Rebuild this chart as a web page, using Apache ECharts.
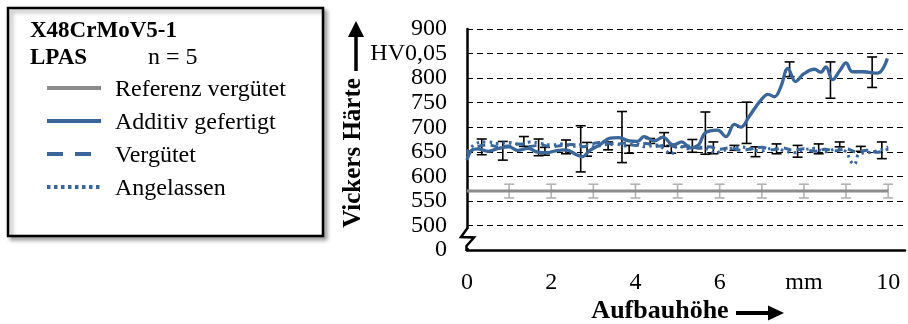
<!DOCTYPE html>
<html>
<head>
<meta charset="utf-8">
<script src="https://cdn.jsdelivr.net/npm/echarts@6/dist/echarts.min.js"></script>
<style>
html,body{margin:0;padding:0;background:#fff;}
#c{width:908px;height:324px;}
</style>
</head>
<body>
<div id="c"></div>
<script>
// ---- data ----
const xTicks = [0, 2, 4, 6, 8, 10];
const xTickLabels = ['0', '2', '4', '6', 'mm', '10'];
const yTickValues = [450, 500, 550, 600, 650, 700, 750, 800, 850, 900];
const yTickLabels = ['0', '500', '550', '600', '650', '700', '750', '800', 'HV0,05', '900'];

const seriesNames = ['Referenz vergütet', 'Additiv gefertigt', 'Vergütet', 'Angelassen'];

const refX = [0, 10];
const refY = [570, 570];
const refErrX = [1, 2, 3, 4, 5, 6, 7, 8, 9, 10];
const refErrMean = [570, 570, 570, 570, 570, 570, 570, 570, 570, 570];
const refErrDev = [14, 14, 14, 14, 14, 14, 14, 14, 14, 14];

const additivX = [0,0.1,0.25,0.5,0.75,1.0,1.2,1.45,1.65,1.9,2.1,2.35,2.6,2.75,2.9,3.15,3.4,3.6,3.85,4.05,4.2,4.45,4.65,4.9,5.1,5.3,5.5,5.65,5.95,6.15,6.35,6.5,6.7,6.95,7.15,7.3,7.45,7.62,7.8,8.0,8.25,8.4,8.52,8.68,8.85,9.0,9.15,9.4,9.75,9.98];
const additivY = [633,652,656,651,657,660,653,657,650,648,652,654,644,640,652,664,678,679,672,671,681,672,680,664,670,658,664,688,694,681,706,700,722,752,767,762,782,820,793,809,818,812,823,797,815,831,813,813,810,840];
const additivErrX = [1.7, 2.7, 3.68, 4.68, 5.66, 6.64, 7.66, 8.63, 9.62];
const additivErrMean = [659, 656, 680, 675, 688, 709, 818, 796, 812];
const additivErrDev = [17, 47, 52, 14, 43, 42, 15, 37, 31];

const vergX = [0,0.25,0.5,0.75,1,1.25,1.5,1.75,2,2.25,2.5,2.75,3,3.25,3.5,3.75,4,4.25,4.5,4.75,5,5.25,5.5,5.75,6,6.25,6.5,6.75,7,7.25,7.5,7.75,8,8.25,8.5,8.75,9,9.25,9.5,9.75,10];
const vergY = [645,660,664,660,662,666,661,664,660,663,665,660,667,669,664,668,663,667,661,664,659,662,657,660,655,658,653,656,659,654,658,653,656,651,655,652,656,650,653,649,656];
const vergErrX = [0.35, 1.35, 2.35, 3.35, 4.35, 5.35, 6.35, 7.35, 8.35, 9.35];
const vergErrMean = [660, 671, 660, 662, 672, 662, 658, 656, 656, 656];
const vergErrDev = [16, 10, 14, 8, 5, 13, 5, 10, 10, 5];

const angX = [0,0.25,0.5,0.75,1,1.25,1.5,1.75,2,2.25,2.5,2.75,3,3.25,3.5,3.75,4,4.25,4.5,4.75,4.85,5,5.25,5.5,5.75,5.9,6,6.25,6.5,6.75,7,7.25,7.5,7.75,8,8.25,8.5,8.75,9,9.1,9.2,9.3,9.5,9.75,10];
const angY = [650,668,670,667,669,665,670,667,664,666,661,665,660,664,667,662,666,660,664,650,645,662,656,660,654,647,650,656,660,655,652,657,653,648,654,657,650,655,650,632,624,645,648,652,660];
const angErrX = [0.85, 1.85, 2.85, 3.85, 4.85, 5.85, 6.85, 7.85, 8.85, 9.85];
const angErrMean = [652, 651, 655, 655, 655, 658, 650, 651, 665, 653];
const angErrDev = [19, 8, 14, 8, 8, 12, 10, 12, 5, 17];

// ---- helpers ----
const FONT = '"Liberation Serif", "Times New Roman", serif';
const BLUE = '#3b6699';
const pairs = (xs, ys) => xs.map((x, i) => [x, ys[i]]);
const errData = (xs, m, d) => xs.map((x, i) => [x, m[i] - d[i], m[i] + d[i]]);

function errRender(color) {
  return function (params, api) {
    const x = api.value(0);
    const lo = api.coord([x, api.value(1)]);
    const hi = api.coord([x, api.value(2)]);
    const hw = 5;
    const st = { stroke: color, lineWidth: 1.6 };
    return {
      type: 'group',
      children: [
        { type: 'line', shape: { x1: lo[0], y1: lo[1], x2: hi[0], y2: hi[1] }, style: st },
        { type: 'line', shape: { x1: lo[0] - hw, y1: lo[1], x2: lo[0] + hw, y2: lo[1] }, style: st },
        { type: 'line', shape: { x1: hi[0] - hw, y1: hi[1], x2: hi[0] + hw, y2: hi[1] }, style: st }
      ]
    };
  };
}

const chart = echarts.init(document.getElementById('c'), null, { renderer: 'canvas' });

const legendRows = [
  { name: seriesNames[0], color: '#8c8c8c', dash: null, y: 88 },
  { name: seriesNames[1], color: BLUE, dash: null, y: 121 },
  { name: seriesNames[2], color: BLUE, dash: [16, 12], y: 154 },
  { name: seriesNames[3], color: BLUE, dash: [3.5, 3.5], y: 187 }
];

const graphics = [
  // legend box
  { type: 'rect', shape: { x: 8, y: 8, width: 315, height: 228 }, z: 50,
    style: { fill: '#fff', stroke: '#000', lineWidth: 2.5, shadowBlur: 4, shadowOffsetX: 3, shadowOffsetY: 3, shadowColor: 'rgba(0,0,0,0.35)' } },
  { type: 'text', x: 30, y: 31, z: 51, style: { text: 'X48CrMoV5-1', font: 'bold 23px ' + FONT, fill: '#000', verticalAlign: 'middle' } },
  { type: 'text', x: 30, y: 58, z: 51, style: { text: 'LPAS', font: 'bold 23px ' + FONT, fill: '#000', verticalAlign: 'middle' } },
  { type: 'text', x: 148, y: 58, z: 51, style: { text: 'n = 5', font: '24px ' + FONT, fill: '#000', verticalAlign: 'middle' } }
];
legendRows.forEach(r => {
  graphics.push({ type: 'line', z: 51, shape: { x1: 47, y1: r.y, x2: 101, y2: r.y },
    style: { stroke: r.color, lineWidth: 4, lineDash: r.dash || null } });
  graphics.push({ type: 'text', x: 115, y: r.y + 2, z: 51,
    style: { text: r.name, font: '24px ' + FONT, fill: '#000', verticalAlign: 'middle' } });
});
// y axis name with arrow
graphics.push({ type: 'text', x: 354, y: 153, rotation: Math.PI / 2, z: 51,
  style: { text: 'Vickers Härte', font: 'bold 25px ' + FONT, fill: '#000', align: 'center', verticalAlign: 'middle' } });
graphics.push({ type: 'line', z: 51, shape: { x1: 356, y1: 71, x2: 356, y2: 34 }, style: { stroke: '#000', lineWidth: 3.5 } });
graphics.push({ type: 'polygon', z: 51, shape: { points: [[356, 21], [348, 37], [364, 37]] }, style: { fill: '#000' } });
// x axis name with arrow
graphics.push({ type: 'text', x: 660, y: 311, z: 51,
  style: { text: 'Aufbauhöhe', font: 'bold 26px ' + FONT, fill: '#000', align: 'center', verticalAlign: 'middle' } });
graphics.push({ type: 'line', z: 51, shape: { x1: 736, y1: 313, x2: 770, y2: 313 }, style: { stroke: '#000', lineWidth: 4 } });
graphics.push({ type: 'polygon', z: 51, shape: { points: [[784, 313], [768, 305.5], [768, 320.5]] }, style: { fill: '#000' } });
// axis break
graphics.push({ type: 'rect', z: 60, shape: { x: 462, y: 229, width: 12, height: 19 }, style: { fill: '#fff' } });
graphics.push({ type: 'polyline', z: 61, shape: { points: [[467.5, 228], [461, 237], [474, 237.5], [466.5, 246], [466.5, 251]] },
  style: { stroke: '#000', lineWidth: 2.5, fill: null } });

const option = {
  animation: false,
  backgroundColor: '#fff',
  grid: { left: 467, right: 0, top: 29, bottom: 74, containLabel: false },
  xAxis: {
    type: 'value', min: 0, max: 10.4, interval: 2,
    axisLine: { show: true, lineStyle: { color: '#000', width: 2.5 } },
    axisTick: { show: false },
    splitLine: { show: false },
    axisLabel: {
      margin: 21, color: '#000', fontFamily: FONT, fontSize: 24,
      formatter: v => { const i = xTicks.indexOf(v); return i >= 0 ? xTickLabels[i] : ''; }
    }
  },
  yAxis: {
    type: 'value', min: 450, max: 900, interval: 50,
    axisLine: { show: true, lineStyle: { color: '#000', width: 2.5 } },
    axisTick: { show: false },
    splitLine: { show: true, lineStyle: { color: '#000', width: 1.2, type: [6, 4] } },
    axisLabel: {
      margin: 20, color: '#000', fontFamily: FONT, fontSize: 24,
      formatter: v => { const i = yTickValues.indexOf(v); return i >= 0 ? yTickLabels[i] : ''; }
    }
  },
  graphic: graphics,
  series: [
    { type: 'custom', name: 'refErr', renderItem: errRender('#b3b3b3'), data: errData(refErrX, refErrMean, refErrDev), encode: { x: 0, y: [1, 2] }, silent: true },
    { type: 'line', name: seriesNames[0], data: pairs(refX, refY), symbol: 'none', lineStyle: { color: '#8c8c8c', width: 3 } },
    { type: 'custom', name: 'vergErr', renderItem: errRender('#000'), data: errData(vergErrX, vergErrMean, vergErrDev), encode: { x: 0, y: [1, 2] }, silent: true },
    { type: 'custom', name: 'angErr', renderItem: errRender('#000'), data: errData(angErrX, angErrMean, angErrDev), encode: { x: 0, y: [1, 2] }, silent: true },
    { type: 'custom', name: 'addErr', renderItem: errRender('#000'), data: errData(additivErrX, additivErrMean, additivErrDev), encode: { x: 0, y: [1, 2] }, silent: true },
    { type: 'line', name: seriesNames[2], data: pairs(vergX, vergY), symbol: 'none', smooth: 0.4, lineStyle: { color: BLUE, width: 3, type: [8, 5] } },
    { type: 'line', name: seriesNames[3], data: pairs(angX, angY), symbol: 'none', smooth: 0.4, lineStyle: { color: BLUE, width: 3, type: [2.5, 4] } },
    { type: 'line', name: seriesNames[1], data: pairs(additivX, additivY), symbol: 'none', smooth: 0.4, lineStyle: { color: BLUE, width: 3.3 } }
  ]
};
chart.setOption(option);
</script>
</body>
</html>
